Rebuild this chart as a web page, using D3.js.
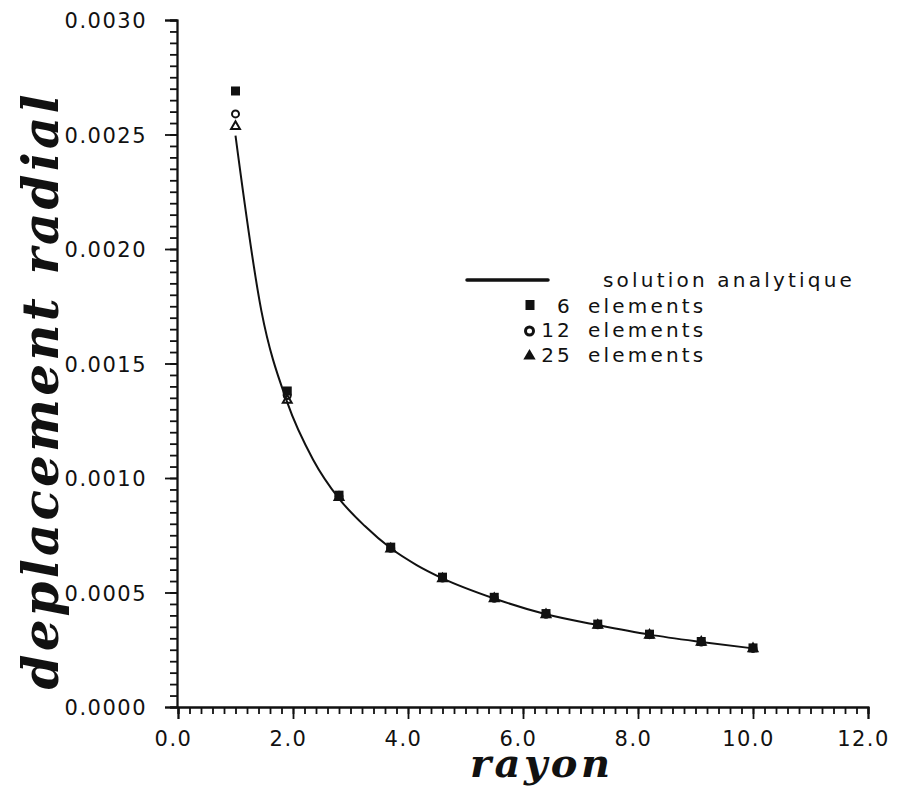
<!DOCTYPE html>
<html>
<head>
<meta charset="utf-8">
<script src="https://cdn.jsdelivr.net/npm/d3@7"></script>
</head>
<body style="margin:0">
<svg id="chart" width="901" height="790"></svg>
<script>
//// data
const radius = [1.0, 1.9, 2.8, 3.7, 4.6, 5.5, 6.4, 7.3, 8.2, 9.1, 10.0];
const elements6 = [0.00269, 0.00138, 0.000925, 0.000698, 0.000567, 0.000479, 0.000408, 0.000362, 0.000318, 0.000286, 0.000258];
const elements12 = [0.00259, 0.00136, 0.00092, 0.000693, 0.000563, 0.000475, 0.000405, 0.000359, 0.000316, 0.000284, 0.000256];
const elements25 = [0.002535, 0.00134, 0.000915, 0.00069, 0.00056, 0.000473, 0.000403, 0.000357, 0.000314, 0.000283, 0.000255];

const analyticR = [1.0, 1.45, 1.9, 2.35, 2.8, 3.25, 3.7, 4.15, 4.6, 5.5, 6.4, 7.3, 8.2, 9.1, 10.0];
const analyticU = [0.002495, 0.00173, 0.00133, 0.00108, 0.00091, 0.00079, 0.000693, 0.00062, 0.000562, 0.000474, 0.000405, 0.000358, 0.000316, 0.000284, 0.000256];

const xTicks = [0, 2, 4, 6, 8, 10, 12];
const yTicks = [0, 0.0005, 0.001, 0.0015, 0.002, 0.0025, 0.003];
const legendLabels = ["solution analytique", "6", "12", "25"];

const tickFont = "'DejaVu Sans', sans-serif";
const titleFont = "'DejaVu Serif', 'Liberation Serif', serif";

const svg = d3.select("#chart");
const x0 = 177, y0 = 707;

const x = d3.scaleLinear().domain([0, 12]).range([178, 868]);
const y = d3.scaleLinear().domain([0, 0.003]).range([y0, 20]);

//// axes
const minorX = d3.range(0, 61).map(i => i * 0.2);
const minorY = d3.range(0, 61).map(i => i * 0.00005);

function axisGroup(t) {
  return svg.append("g").attr("transform", t).attr("color", "#111").attr("stroke-width", 1.8);
}

axisGroup(`translate(0,${y0})`)
  .call(d3.axisBottom(x).tickValues(minorX).tickSize(7).tickFormat(() => ""));
const xAxis = axisGroup(`translate(0,${y0})`)
  .call(d3.axisBottom(x).tickValues(xTicks).tickSize(12).tickPadding(6)
    .tickFormat(d3.format(".1f")));

axisGroup(`translate(${x0},0)`)
  .call(d3.axisLeft(y).tickValues(minorY).tickSize(7).tickFormat(() => ""));
const yAxis = axisGroup(`translate(${x0},0)`)
  .call(d3.axisLeft(y).tickValues(yTicks).tickSize(12).tickPadding(18)
    .tickFormat(d3.format(".4f")));

xAxis.selectAll("text")
  .attr("font-family", tickFont).attr("font-size", 21).attr("letter-spacing", 1.5)
  .attr("dx", -5).attr("y", 24);
yAxis.selectAll("text")
  .attr("font-family", tickFont).attr("font-size", 21).attr("letter-spacing", 1.5)
  .attr("dy", "0.38em");

//// axis titles
svg.append("text")
  .attr("x", 540).attr("y", 777)
  .attr("text-anchor", "middle")
  .attr("font-family", titleFont).attr("font-style", "italic").attr("font-weight", "bold")
  .attr("font-size", 40).attr("fill", "#111")
  .attr("textLength", 140).attr("lengthAdjust", "spacing")
  .text("rayon");

svg.append("text")
  .attr("transform", "translate(58,392) rotate(-90)")
  .attr("text-anchor", "middle")
  .attr("font-family", titleFont).attr("font-style", "italic").attr("font-weight", "bold")
  .attr("font-size", 50).attr("fill", "#111")
  .attr("textLength", 595).attr("lengthAdjust", "spacing")
  .text("deplacement radial");

//// analytic curve
const analytic = analyticR.map((r, i) => ({r: r, u: analyticU[i]}));
const curve = d3.line().x(d => x(d.r)).y(d => y(d.u)).curve(d3.curveMonotoneX);

svg.append("path")
  .datum(analytic)
  .attr("d", curve)
  .attr("fill", "none").attr("stroke", "#111").attr("stroke-width", 2);

//// markers
function points(values) {
  return radius.map((r, i) => ({r: r, u: values[i]}));
}

const triangle = d3.symbol().type(d3.symbolTriangle).size(34);

svg.selectAll(".tri")
  .data(points(elements25))
  .join("path")
  .attr("class", "tri")
  .attr("d", triangle)
  .attr("transform", d => `translate(${x(d.r)},${y(d.u)})`)
  .attr("fill", "none").attr("stroke", "#111").attr("stroke-width", 2);

svg.selectAll(".circ")
  .data(points(elements12))
  .join("circle")
  .attr("class", "circ")
  .attr("cx", d => x(d.r)).attr("cy", d => y(d.u)).attr("r", 3.5)
  .attr("fill", "none").attr("stroke", "#111").attr("stroke-width", 2);

svg.selectAll(".sq")
  .data(points(elements6))
  .join("rect")
  .attr("class", "sq")
  .attr("x", d => x(d.r) - 4.5).attr("y", d => y(d.u) - 4.5)
  .attr("width", 9).attr("height", 9)
  .attr("fill", "#111");

//// legend
const legend = svg.append("g").attr("font-family", tickFont).attr("font-size", 20)
  .attr("fill", "#111").attr("letter-spacing", 3.2);

legend.append("path")
  .attr("d", "M467,280H548")
  .attr("stroke", "#111").attr("stroke-width", 3.5).attr("stroke-linecap", "round");
legend.append("text").attr("x", 603).attr("y", 287).text(legendLabels[0]);

const rowsY = [313, 337, 361.5];
legend.append("rect")
  .attr("x", 525.5).attr("y", 300).attr("width", 9).attr("height", 10).attr("fill", "#111");
legend.append("circle")
  .attr("cx", 529.5).attr("cy", 331).attr("r", 4)
  .attr("fill", "none").attr("stroke", "#111").attr("stroke-width", 3);
legend.append("path")
  .attr("d", triangle)
  .attr("transform", "translate(529.5,356)")
  .attr("fill", "#111").attr("stroke", "#111").attr("stroke-width", 2);

legendLabels.slice(1).forEach(function(lab, i) {
  legend.append("text").attr("x", 573).attr("y", rowsY[i])
    .attr("text-anchor", "end").text(lab);
  legend.append("text").attr("x", 588).attr("y", rowsY[i]).text("elements");
});
</script>
</body>
</html>
